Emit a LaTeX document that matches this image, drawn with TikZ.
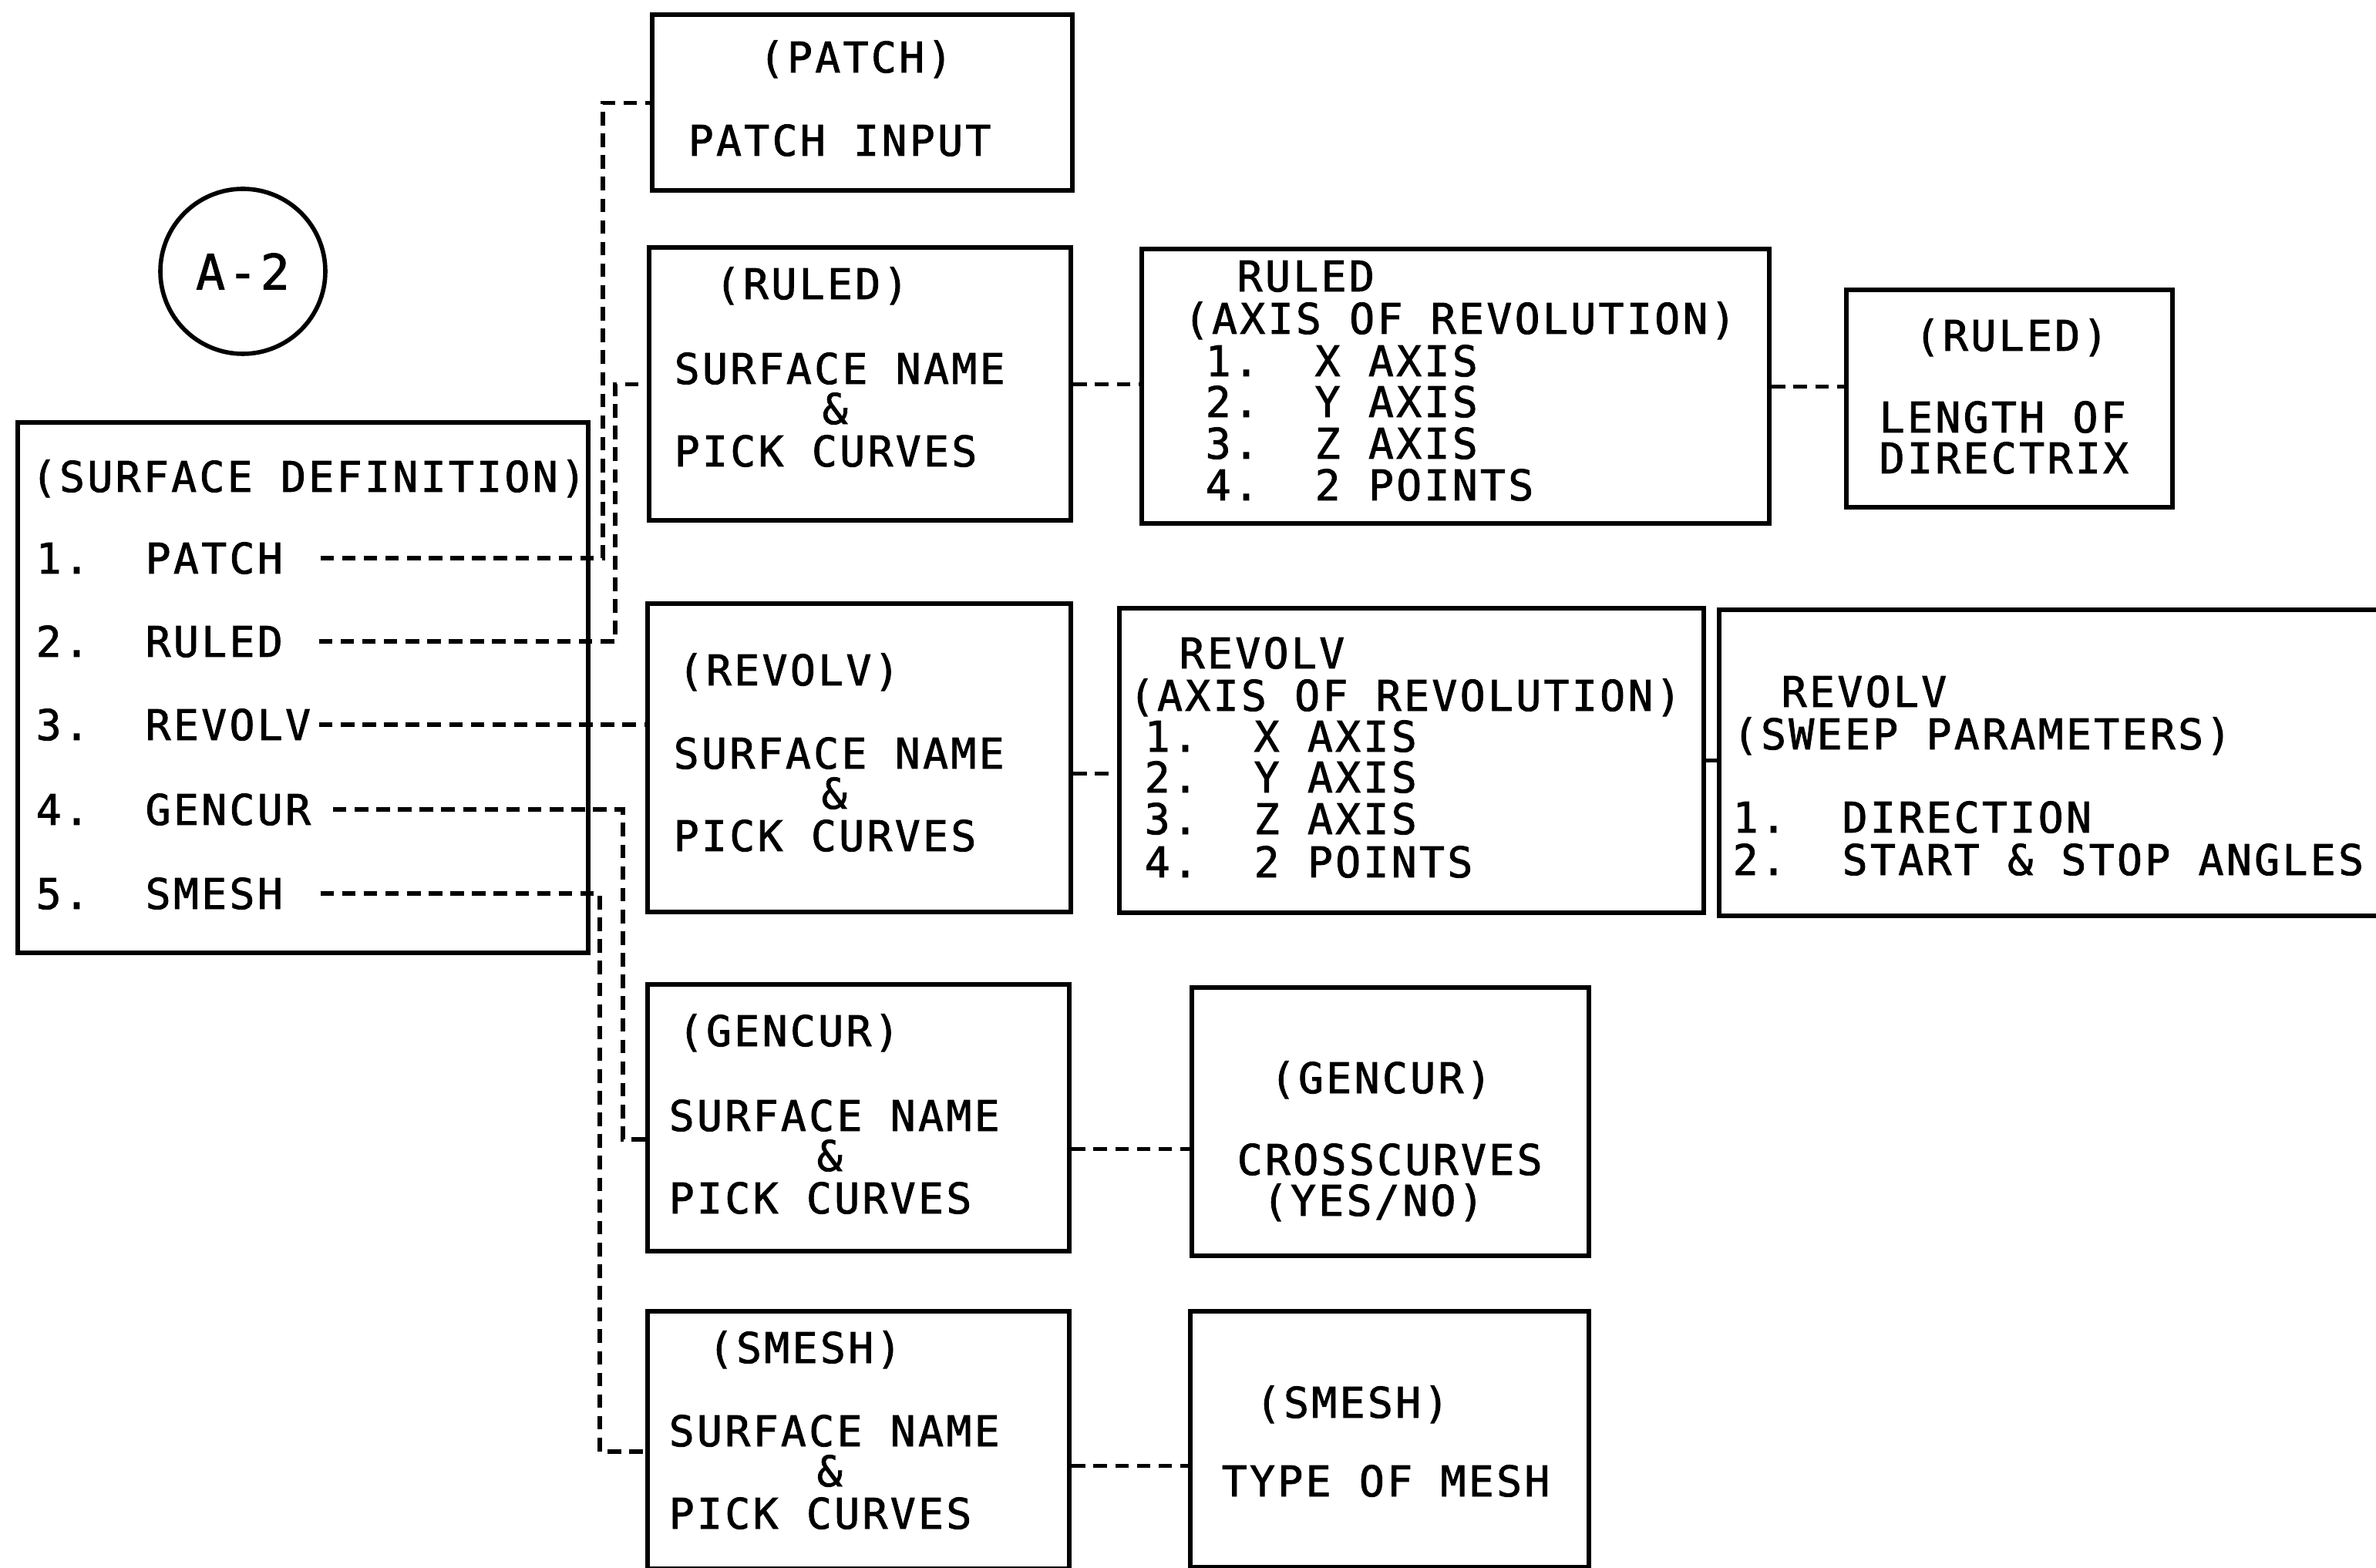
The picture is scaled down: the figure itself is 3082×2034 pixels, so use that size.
\documentclass[tikz,border=0pt]{standalone}
\usepackage{fontspec}
\newfontfamily\plotfont[LetterSpace=6, FakeBold=1.5]{DejaVu Sans Mono}
\usetikzlibrary{calc}
\tikzset{
  box/.style={draw, line width=1.8pt, anchor=north west, inner sep=0pt},
  txt/.style={anchor=base west, inner sep=0pt, font=\plotfont\fontsize{15.6}{18}\selectfont},
  link/.style={line width=1.5pt, dash pattern=on 5pt off 3pt},
  sheet/.style={draw, circle, line width=1.6pt, minimum size=21.4mm, inner sep=0pt,
    font=\plotfont\fontsize{18}{20}\selectfont}
}

\begin{document}
\begin{tikzpicture}[x=0.1mm, y=-0.1mm]
  \clip (0,0) rectangle (3082,2034);
  \fill[white] (0,0) rectangle (3082,2034);

  % sheet tag
  \node[sheet] (tag) at (315,352) {A-2};

  % main menu
  \node[box, minimum width=74.0mm, minimum height=68.8mm] (menu) at (20,545) {};
  \node[txt] (menuttl) at (40,638) {(SURFACE DEFINITION)};
  \foreach \n/\lab/\yy in {1/PATCH/744, 2/RULED/852, 3/REVOLV/960, 4/GENCUR/1070, 5/SMESH/1179}
    \node[txt] (item\n) at (46,\yy) {\n.\ \ \lab};

  % first column
  \node[box, minimum width=54.5mm, minimum height=22.8mm] (patchbox) at (843,16) {};
  \node[txt] (patchttl) at (984,94) {(PATCH)};
  \node[txt] (patchin) at (892,202) {PATCH INPUT};

  \node[box, minimum width=54.7mm, minimum height=35.4mm] (ruledbox) at (839,318) {};
  \node[txt] (ruledttl) at (927,388) {(RULED)};

  \node[box, minimum width=54.9mm, minimum height=40.0mm] (revolvbox) at (837,780) {};
  \node[txt] (revolvttl) at (879,889) {(REVOLV)};

  \node[box, minimum width=54.7mm, minimum height=34.6mm] (gencurbox) at (837,1274) {};
  \node[txt] (gencurttl) at (879,1357) {(GENCUR)};

  \node[box, minimum width=54.7mm, minimum height=33.4mm] (smeshbox) at (837,1698) {};
  \node[txt] (smeshttl) at (918,1768) {(SMESH)};

  \foreach \b/\x/\yy in {ruled/874/498, revolv/873/997, gencur/867/1467, smesh/867/1876} {
    \node[txt] (\b name) at (\x,\yy) {SURFACE NAME};
    \node[txt] (\b amp) at (\x+192,\yy+52) {\&};
    \node[txt] (\b pick) at (\x,\yy+107) {PICK CURVES};
  }

  % ruled branch
  \node[box, minimum width=81.4mm, minimum height=35.6mm] (ruledaxis) at (1478,320) {};
  \node[txt] (ruledaxttl) at (1604,378) {RULED};
  \node[txt] (ruledaxsub) at (1535,433) {(AXIS OF REVOLUTION)};
  \foreach \n/\lab/\yy in {1/X AXIS/488, 2/Y AXIS/541, 3/Z AXIS/595, 4/2 POINTS/649}
    \node[txt] (ruledax\n) at (1563,\yy) {\n.\ \ \lab};

  \node[box, minimum width=42.3mm, minimum height=28.2mm] (ruledlen) at (2392,373) {};
  \node[txt] (ruledlenttl) at (2483,455) {(RULED)};
  \node[txt] (ruledlen1) at (2437,561) {LENGTH OF};
  \node[txt] (ruledlen2) at (2437,614) {DIRECTRIX};

  % revolv branch
  \node[box, minimum width=75.8mm, minimum height=39.5mm] (revolvaxis) at (1449,786) {};
  \node[txt] (revolvaxttl) at (1529,867) {REVOLV};
  \node[txt] (revolvaxsub) at (1464,922) {(AXIS OF REVOLUTION)};
  \foreach \n/\lab/\yy in {1/X AXIS/975, 2/Y AXIS/1028, 3/Z AXIS/1082, 4/2 POINTS/1138}
    \node[txt] (revolvax\n) at (1484,\yy) {\n.\ \ \lab};

  \node[box, minimum width=89.3mm, minimum height=39.7mm] (revolvsweep) at (2227,788) {};
  \node[txt] (sweepttl) at (2310,917) {REVOLV};
  \node[txt] (sweepsub) at (2247,972) {(SWEEP PARAMETERS)};
  \node[txt] (sweep1) at (2247,1080) {1.\ \ DIRECTION};
  \node[txt] (sweep2) at (2247,1135) {2.\ \ START \& STOP ANGLES};

  % gencur and smesh branches
  \node[box, minimum width=51.5mm, minimum height=34.8mm] (gencurcross) at (1543,1278) {};
  \node[txt] (crossttl) at (1647,1418) {(GENCUR)};
  \node[txt] (cross1) at (1604,1524) {CROSSCURVES};
  \node[txt] (cross2) at (1637,1577) {(YES/NO)};

  \node[box, minimum width=51.7mm, minimum height=33.2mm] (smeshtype) at (1541,1698) {};
  \node[txt] (typettl) at (1628,1839) {(SMESH)};
  \node[txt] (type1) at (1584,1941) {TYPE OF MESH};

  % menu connectors
  \coordinate (patchjog) at ([xshift=-6.1mm]patchbox.west);
  \coordinate (ruledjog) at ([xshift=-4.1mm]ruledbox.west);
  \coordinate (gencurjog) at (808,1478);
  \coordinate (smeshjog) at (778,1883);
  \draw[link] ([xshift=4.8mm]item1.east) -| (patchjog) -- (patchbox.west);
  \draw[link] ([xshift=4.6mm]item2.east) -| (ruledjog) -- (ruledbox.west);
  \draw[link] ([xshift=1mm]item3.east) -- (item3.east -| revolvbox.west);
  \draw[link] ([xshift=2.8mm]item4.east) -| (gencurjog) -- (gencurjog -| gencurbox.west);
  \draw[link] ([xshift=4.8mm]item5.east) -| (smeshjog) -- (smeshjog -| smeshbox.west);

  % box to box
  \coordinate (revolvout) at ([yshift=-2mm]revolvbox.east);
  \coordinate (gencurout) at ([yshift=-4mm]gencurbox.east);
  \coordinate (smeshout) at ([yshift=-3.3mm]smeshbox.east);
  \draw[link] (ruledbox.east) -- (ruledbox.east -| ruledaxis.west);
  \draw[link] (ruledaxis.east) -- (ruledaxis.east -| ruledlen.west);
  \draw[link] (revolvout) -- (revolvout -| revolvaxis.west);
  \draw[link] (revolvaxis.east) -- (revolvaxis.east -| revolvsweep.west);
  \draw[link] (gencurout) -- (gencurout -| gencurcross.west);
  \draw[link] (smeshout) -- (smeshout -| smeshtype.west);
\end{tikzpicture}
\end{document}
